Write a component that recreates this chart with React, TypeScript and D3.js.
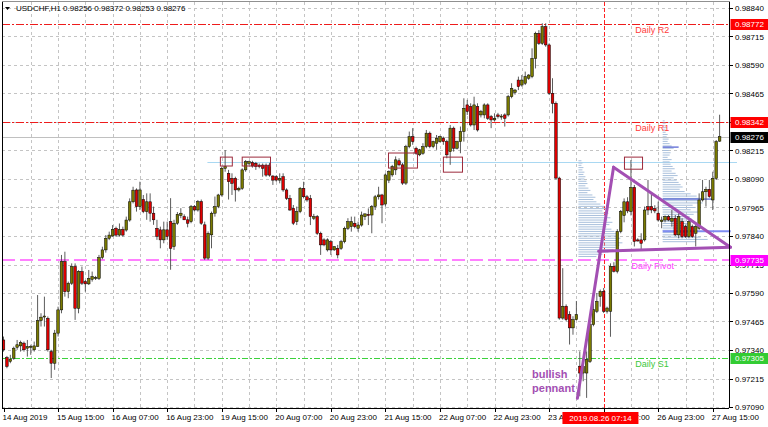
import React from 'react'
import * as d3 from 'd3'

const WIDTH = 768
const HEIGHT = 427
const AXIS_X = 729
const PLOT_TOP = 2
const PLOT_BOTTOM = 408
const FONT = '"Liberation Sans", Arial, sans-serif'

const symbol = 'USDCHF,H1'

// H1 bars, 14 Aug 2019 23:00 .. 27 Aug 2019 17:00
const opens = [
  0.97384, 0.97307, 0.9729, 0.97304, 0.97352, 0.97358, 0.9737, 0.97348, 0.97355, 0.97341,
  0.97355, 0.97469, 0.97487, 0.97479, 0.97333, 0.97282, 0.97414, 0.97516, 0.97728, 0.97596,
  0.97633, 0.97706, 0.97523, 0.97684, 0.9764, 0.9763, 0.9765, 0.97657, 0.97654, 0.97746,
  0.97779, 0.9783, 0.9784, 0.97874, 0.97844, 0.97869, 0.97866, 0.9791, 0.9799, 0.98042,
  0.97969, 0.98, 0.97947, 0.9799, 0.9794, 0.97874, 0.97867, 0.97823, 0.97867, 0.97903,
  0.97794, 0.97896, 0.9793, 0.97925, 0.97911, 0.97903, 0.97969, 0.97954, 0.97991, 0.97889,
  0.97743, 0.97845, 0.9794, 0.97969, 0.9802, 0.98137, 0.98115, 0.98093, 0.98093, 0.98042,
  0.98049, 0.9813, 0.98159, 0.98162, 0.98159, 0.98151, 0.98151, 0.98151, 0.98151, 0.98103,
  0.981, 0.98085, 0.981, 0.98042, 0.98005, 0.97961, 0.97903, 0.97947, 0.98049, 0.98012,
  0.98005, 0.97918, 0.97925, 0.97852, 0.97823, 0.97779, 0.97815, 0.97779, 0.97786, 0.97786,
  0.97815, 0.97874, 0.97881, 0.97896, 0.97874, 0.97888, 0.97925, 0.97935, 0.97932, 0.97969,
  0.98012, 0.9802, 0.9798, 0.98085, 0.98108, 0.9813, 0.9817, 0.98152, 0.98072, 0.98232,
  0.98276, 0.98225, 0.98196, 0.98203, 0.98232, 0.98291, 0.98232, 0.98247, 0.98254, 0.98269,
  0.98254, 0.9821, 0.98313, 0.98225, 0.98254, 0.98298, 0.98415, 0.98408, 0.98327, 0.98408,
  0.98371, 0.98371, 0.98415, 0.98364, 0.98349, 0.98371, 0.98364, 0.98371, 0.98371, 0.98451,
  0.9847, 0.98524, 0.98502, 0.9851, 0.98532, 0.98539, 0.98619, 0.98729, 0.98685, 0.98758,
  0.98678, 0.98466, 0.98422, 0.98094, 0.9748, 0.97532, 0.97495, 0.97437, 0.97473, 0.97269,
  0.97239, 0.97239, 0.9729, 0.97451, 0.9751, 0.97575, 0.97597, 0.9751, 0.9751, 0.97707,
  0.97685, 0.9786, 0.9793, 0.9799, 0.97947, 0.98053, 0.97823, 0.97823, 0.97823, 0.97969,
  0.97969, 0.9796, 0.9794, 0.97903, 0.9791, 0.97925, 0.97905, 0.97918, 0.97845, 0.97903,
  0.97881, 0.97837, 0.97881, 0.97852, 0.97874, 0.97998, 0.98034, 0.98045, 0.97998, 0.98093,
  0.98256,
]
const highs = [
  0.97399, 0.97314, 0.97319, 0.97355, 0.97384, 0.97381, 0.97377, 0.97384, 0.97363, 0.97377,
  0.97581, 0.97501, 0.97574, 0.97487, 0.97341, 0.97428, 0.9753, 0.97757, 0.97771, 0.9764,
  0.9772, 0.9772, 0.9769, 0.97706, 0.97647, 0.97691, 0.97684, 0.97665, 0.97757, 0.97793,
  0.97844, 0.97859, 0.97888, 0.97881, 0.97895, 0.97881, 0.97925, 0.98005, 0.98056, 0.98049,
  0.98078, 0.9802, 0.98027, 0.98027, 0.97969, 0.97911, 0.97881, 0.97903, 0.97903, 0.98006,
  0.97911, 0.97945, 0.97962, 0.97935, 0.97925, 0.97976, 0.97976, 0.97998, 0.98, 0.97903,
  0.9786, 0.97947, 0.98013, 0.98025, 0.98144, 0.98217, 0.9813, 0.98115, 0.981, 0.98056,
  0.98137, 0.98173, 0.9817, 0.9817, 0.98165, 0.98158, 0.98158, 0.98158, 0.98161, 0.98107,
  0.98107, 0.98115, 0.98115, 0.98049, 0.9802, 0.97976, 0.97969, 0.98055, 0.98078, 0.9802,
  0.9802, 0.97937, 0.97932, 0.97859, 0.9783, 0.9783, 0.97823, 0.97795, 0.97801, 0.97823,
  0.97881, 0.97918, 0.97925, 0.97925, 0.97903, 0.97947, 0.97939, 0.97961, 0.97976, 0.9802,
  0.98056, 0.98025, 0.98115, 0.98128, 0.98152, 0.98189, 0.98181, 0.9816, 0.9824, 0.98298,
  0.98313, 0.98232, 0.98222, 0.98247, 0.98305, 0.98298, 0.98258, 0.98283, 0.9828, 0.98276,
  0.98262, 0.98327, 0.9832, 0.98258, 0.9832, 0.98444, 0.98437, 0.98422, 0.98451, 0.98422,
  0.98393, 0.98422, 0.98422, 0.98371, 0.98378, 0.9838, 0.98375, 0.98378, 0.98459, 0.9851,
  0.98485, 0.98539, 0.98546, 0.98561, 0.9855, 0.98663, 0.98736, 0.98743, 0.98773, 0.98773,
  0.98685, 0.98532, 0.9843, 0.981, 0.97699, 0.9754, 0.9751, 0.97488, 0.97555, 0.97334,
  0.9729, 0.97334, 0.97466, 0.97583, 0.9759, 0.97605, 0.97612, 0.9753, 0.9772, 0.97725,
  0.9787, 0.97954, 0.98005, 0.9801, 0.98173, 0.98064, 0.9783, 0.97852, 0.97969, 0.98086,
  0.98027, 0.97975, 0.97991, 0.97925, 0.9793, 0.97932, 0.97954, 0.97932, 0.9794, 0.97918,
  0.9789, 0.97918, 0.9789, 0.97896, 0.98027, 0.98086, 0.98056, 0.98086, 0.98122, 0.98261,
  0.98372,
]
const lows = [
  0.97333, 0.9726, 0.97282, 0.97297, 0.97341, 0.97333, 0.97333, 0.97311, 0.97319, 0.97333,
  0.97355, 0.97443, 0.97443, 0.97333, 0.97217, 0.97253, 0.97399, 0.97501, 0.97574, 0.97567,
  0.97625, 0.97472, 0.97501, 0.97625, 0.97596, 0.97625, 0.9764, 0.97647, 0.97647, 0.97738,
  0.97767, 0.97822, 0.97837, 0.97837, 0.97837, 0.97837, 0.97859, 0.97903, 0.97983, 0.97947,
  0.97954, 0.9794, 0.97911, 0.97903, 0.97889, 0.97823, 0.97786, 0.97808, 0.97823, 0.97692,
  0.97779, 0.97889, 0.97918, 0.9791, 0.97878, 0.97896, 0.97947, 0.97947, 0.97889, 0.97735,
  0.97735, 0.97786, 0.97925, 0.97962, 0.98013, 0.98122, 0.98, 0.9802, 0.97991, 0.98035,
  0.98042, 0.98122, 0.9815, 0.9814, 0.9813, 0.98137, 0.981, 0.981, 0.981, 0.98064,
  0.98078, 0.98071, 0.98034, 0.97998, 0.9795, 0.97888, 0.97888, 0.9794, 0.98005, 0.9799,
  0.97888, 0.9791, 0.97845, 0.97757, 0.97795, 0.97772, 0.97757, 0.97775, 0.97742, 0.97779,
  0.97808, 0.97866, 0.97859, 0.97874, 0.97859, 0.97881, 0.9791, 0.97888, 0.97852, 0.97954,
  0.98, 0.97896, 0.9797, 0.98072, 0.981, 0.98108, 0.98145, 0.98064, 0.98064, 0.98225,
  0.9824, 0.98196, 0.9819, 0.98196, 0.98225, 0.98225, 0.98225, 0.98218, 0.9825, 0.9824,
  0.98181, 0.98152, 0.9821, 0.9822, 0.98203, 0.98254, 0.98371, 0.9832, 0.98305, 0.98298,
  0.9836, 0.98356, 0.98349, 0.98313, 0.98342, 0.98355, 0.9835, 0.9832, 0.98364, 0.98444,
  0.9846, 0.9848, 0.98495, 0.98502, 0.98525, 0.98532, 0.98575, 0.98678, 0.98678, 0.9867,
  0.98459, 0.98378, 0.98088, 0.97473, 0.97473, 0.97466, 0.97364, 0.97407, 0.9747, 0.97137,
  0.97203, 0.9713, 0.97283, 0.97444, 0.97502, 0.9753, 0.97502, 0.975, 0.97398, 0.9768,
  0.97676, 0.97852, 0.979, 0.9794, 0.9793, 0.97794, 0.97816, 0.97779, 0.97816, 0.97932,
  0.9794, 0.9794, 0.97903, 0.97874, 0.979, 0.97905, 0.97881, 0.9784, 0.9783, 0.9783,
  0.97832, 0.9783, 0.97832, 0.97794, 0.97867, 0.97991, 0.97969, 0.98008, 0.97954, 0.98086,
  0.98253,
]
const closes = [
  0.97341, 0.97268, 0.973, 0.97348, 0.97363, 0.97373, 0.97341, 0.97355, 0.97356, 0.97358,
  0.97469, 0.97484, 0.97489, 0.97341, 0.97282, 0.97414, 0.97516, 0.97728, 0.97596, 0.97633,
  0.97706, 0.97523, 0.97684, 0.97633, 0.9763, 0.97654, 0.97662, 0.97658, 0.97746, 0.97779,
  0.9783, 0.97844, 0.97869, 0.97844, 0.97869, 0.97844, 0.9791, 0.9799, 0.98041, 0.97969,
  0.98042, 0.97947, 0.9799, 0.9794, 0.97911, 0.97838, 0.97823, 0.97867, 0.97838, 0.97786,
  0.97896, 0.97935, 0.9794, 0.97911, 0.97896, 0.97969, 0.97954, 0.97991, 0.97896, 0.97743,
  0.97852, 0.9794, 0.97969, 0.9802, 0.98137, 0.98144, 0.98078, 0.98071, 0.98042, 0.98049,
  0.9813, 0.98166, 0.98166, 0.98147, 0.98144, 0.98144, 0.98137, 0.98107, 0.98107, 0.98085,
  0.98085, 0.98093, 0.98042, 0.98005, 0.97954, 0.97896, 0.97947, 0.98049, 0.98012, 0.97998,
  0.97925, 0.97925, 0.97852, 0.97801, 0.97801, 0.97823, 0.97779, 0.97793, 0.97757, 0.97815,
  0.97874, 0.97903, 0.97903, 0.97881, 0.97888, 0.97932, 0.97937, 0.9793, 0.97969, 0.98012,
  0.9802, 0.97976, 0.98108, 0.98123, 0.98145, 0.98174, 0.98152, 0.98072, 0.98232, 0.98276,
  0.98254, 0.98203, 0.98218, 0.98232, 0.98291, 0.98232, 0.98254, 0.98269, 0.98276, 0.98254,
  0.98196, 0.98313, 0.98225, 0.98254, 0.98298, 0.984, 0.98386, 0.98327, 0.98415, 0.98305,
  0.98386, 0.98415, 0.98356, 0.98349, 0.98356, 0.98364, 0.98366, 0.98356, 0.98451, 0.98488,
  0.9848, 0.98495, 0.98524, 0.98539, 0.98546, 0.98619, 0.98729, 0.98685, 0.98758, 0.98678,
  0.98466, 0.98422, 0.98094, 0.9748, 0.97532, 0.97473, 0.97437, 0.97473, 0.97495, 0.97239,
  0.97269, 0.97298, 0.97451, 0.97517, 0.97553, 0.97597, 0.9751, 0.97524, 0.97707, 0.97685,
  0.9786, 0.97947, 0.9799, 0.9795, 0.98053, 0.97816, 0.97818, 0.97808, 0.97954, 0.97954,
  0.97954, 0.9795, 0.9791, 0.9791, 0.97925, 0.9791, 0.97918, 0.97845, 0.97925, 0.97837,
  0.97837, 0.97903, 0.97837, 0.97881, 0.97998, 0.98034, 0.98045, 0.98013, 0.98093, 0.98254,
  0.98276,
]

const priceTicks = [
  0.9884, 0.98715, 0.9859, 0.98465, 0.9834, 0.98215, 0.9809, 0.97965, 0.9784, 0.97715,
  0.9759, 0.97465, 0.9734, 0.97215, 0.9709,
]
const timeTickBars = [0, 16, 32, 48, 64, 80, 96, 112, 128, 144, 160, 176, 192, 208]
const timeTickLabels = [
  '14 Aug 2019', '15 Aug 15:00', '16 Aug 07:00', '16 Aug 23:00', '19 Aug 15:00',
  '20 Aug 07:00', '20 Aug 23:00', '21 Aug 15:00', '22 Aug 07:00', '22 Aug 23:00',
  '23 Aug 15:00', '26 Aug 07:00', '26 Aug 23:00', '27 Aug 15:00',
]

// daily pivot levels
const levelNames = ['Daily R2', 'Daily R1', 'Daily Pivot', 'Daily S1']
const levelPrices = [0.98772, 0.98342, 0.97735, 0.97305]

// vertical cursor
const cursorBar = 176.23
const cursorLabel = '2019.08.26 07:14'

// resistance line and the marked boxes
const resistancePrice = 0.98166
const resistanceFromBar = 59.8
const boxFromBars = [63.6, 70, 112.9, 129, 182.1]
const boxToBars = [67.1, 78.3, 121.4, 134.6, 187.4]
const boxTops = [0.98186, 0.98186, 0.98204, 0.98186, 0.98186]
const boxBottoms = [0.98147, 0.98147, 0.98138, 0.9812, 0.98133]

// pennant drawing: pole bottom, apex, right tip, lower-left
const pennantBars = [168.3, 178.9, 213.2, 174.5]
const pennantPrices = [0.97128, 0.98142, 0.97791, 0.97773]
const pennantSegments = [[0, 1], [1, 2], [3, 2]]
const pennantText = ['bullish', 'pennant']

// volume profiles (rows of 1 pip, top row first)
const profileAFromBar = 168.6
const profileATop = 0.9817
const profileA = [
  3, 4, 3, 5, 4, 6, 5, 7, 6, 8, 9, 7, 10, 12, 9, 14, 17, 15, 18, 22, 26, 28,
  24, 30, 27, 32, 29, 34, 31, 28, 33, 36, 40, 38, 42, 39, 44, 41, 37, 35, 30, 24, 18,
]
const profileBFromBar = 193.3
const profileBTop = 0.98345
const profileB = [
  2, 3, 2, 4, 3, 3, 5, 4, 6, 5, 7, 9, 11, 6, 8, 7, 5, 9, 7, 8, 10, 12, 9, 13, 15, 11,
  14, 16, 18, 20, 17, 22, 28, 34, 38, 36, 40, 30, 33, 28, 35, 31, 27, 29, 24, 27, 22,
  26, 29, 25, 30, 38, 45, 33,
]
const PROFILE_STEP = 0.0001
const profileMarkPrices = [0.9823, 0.98002, 0.97861]
const profileMarkVolumes = [16, 50, 68]

const levelStyle = [
  { color: '#ee1c1c', text: '#ff3b3b', box: '#ff0000', dash: '8 2 2 2', width: 1 },
  { color: '#ee1c1c', text: '#ff3b3b', box: '#ff0000', dash: '8 2 2 2', width: 1 },
  { color: '#ff80ff', text: '#ff3cff', box: '#ff00ff', dash: '13 5', width: 2 },
  { color: '#3cd23c', text: '#3cc83c', box: '#33cc33', dash: '6 2 2 2', width: 1 },
]

// snap a y value onto a pixel row so thin lines stay crisp
const crisp = (v: number) => Math.round(v) + 0.5

export default function App() {
  const x = d3.scaleLinear().domain([0, 210]).range([3.5, 719.6])
  const y = d3.scaleLinear().domain([0.9709, 0.9884]).range([407, 8])
  const vol = d3.scaleLinear().domain([0, 10]).range([0, 10])
  const fmt = d3.format('.5f')
  const last = closes.length - 1
  const gridBars = d3.range(8, 211, 8)
  const bodyW = 2.6

  const tagRect = (price: number, fill: string, text: string, key: string) => (
    <g key={key}>
      <rect x={AXIS_X + 1.5} y={Math.round(y(price)) - 5} width={WIDTH - AXIS_X - 1.5} height={11} fill={fill} />
      <text x={735} y={y(price) + 3} fontSize={8} fill="#fff">{text}</text>
    </g>
  )

  return (
    <div style={{ position: 'fixed', left: 0, top: 0 }}>
      <svg width={WIDTH} height={HEIGHT} style={{ display: 'block', fontFamily: FONT, background: '#fff' }}>
        {/* grid */}
        <g stroke="#c4c4c4" strokeWidth={1} strokeDasharray="3 3">
          {priceTicks.map(p => (
            <line key={p} x1={2} x2={AXIS_X} y1={crisp(y(p))} y2={crisp(y(p))} />
          ))}
          {gridBars.map(b => (
            <line key={b} x1={crisp(x(b))} x2={crisp(x(b))} y1={PLOT_TOP} y2={PLOT_BOTTOM} />
          ))}
        </g>

        {/* current price line */}
        <line x1={2} x2={AXIS_X} y1={crisp(y(closes[last]))} y2={crisp(y(closes[last]))} stroke="#c0c0c0" strokeWidth={1} />

        {/* pivot levels */}
        {levelPrices.map((p, i) => {
          const ly = levelStyle[i].width === 2 ? Math.round(y(p)) : crisp(y(p))
          return (
            <line key={levelNames[i]} x1={2} x2={AXIS_X} y1={ly} y2={ly}
              stroke={levelStyle[i].color} strokeWidth={levelStyle[i].width} strokeDasharray={levelStyle[i].dash} />
          )
        })}

        {/* cursor */}
        <line x1={crisp(x(cursorBar))} x2={crisp(x(cursorBar))} y1={PLOT_TOP} y2={PLOT_BOTTOM} stroke="#ff2020" strokeWidth={1} strokeDasharray="4 2" />

        {/* resistance */}
        <line x1={x(resistanceFromBar)} x2={737} y1={crisp(y(resistancePrice))} y2={crisp(y(resistancePrice))} stroke="#a9d8f2" strokeWidth={1} />

        {/* volume profiles */}
        <g stroke="#a9c0dc" strokeWidth={1}>
          {profileA.map((v, i) => {
            const py = y(profileATop - i * PROFILE_STEP)
            return <line key={'a' + i} x1={x(profileAFromBar)} x2={x(profileAFromBar) + vol(v)} y1={py} y2={py} />
          })}
          {profileB.map((v, i) => {
            const py = y(profileBTop - i * PROFILE_STEP)
            return <line key={'b' + i} x1={x(profileBFromBar)} x2={x(profileBFromBar) + vol(v)} y1={py} y2={py} />
          })}
        </g>
        {profileMarkPrices.map((p, i) => (
          <line key={'m' + i} x1={x(profileBFromBar)} x2={x(profileBFromBar) + vol(profileMarkVolumes[i])}
            y1={y(p)} y2={y(p)} stroke={i === 2 ? '#7f8cf2' : '#2b3cc8'} strokeWidth={i === 2 ? 2 : 1} />
        ))}

        {/* candles */}
        <g>
          {opens.map((o, i) => {
            const c = closes[i]
            const up = c >= o
            const top = y(Math.max(o, c))
            const h = Math.max(1, y(Math.min(o, c)) - top)
            return (
              <g key={i}>
                <line x1={x(i)} x2={x(i)} y1={y(highs[i])} y2={y(lows[i])} stroke="#4a4a4a" strokeWidth={0.9} />
                <rect x={x(i) - bodyW / 2} y={top} width={bodyW} height={h}
                  fill={up ? '#7a7a00' : '#e00000'} stroke="#000" strokeWidth={0.5} />
              </g>
            )
          })}
        </g>

        {/* boxes */}
        {boxFromBars.map((b, i) => (
          <rect key={'box' + i} x={x(b)} y={y(boxTops[i])} width={x(boxToBars[i]) - x(b)}
            height={y(boxBottoms[i]) - y(boxTops[i])} fill="none" stroke="#9c2a3c" strokeWidth={1} />
        ))}

        {/* pennant */}
        <g stroke="#a34fb3" strokeWidth={3} strokeLinecap="round">
          {pennantSegments.map(([a, b], i) => (
            <line key={'p' + i} x1={x(pennantBars[a])} y1={y(pennantPrices[a])} x2={x(pennantBars[b])} y2={y(pennantPrices[b])} />
          ))}
        </g>
        <text x={x(155)} y={y(0.97216)} fontSize={11} fontWeight="bold" fill="#a34fb3">
          {pennantText.map((t, i) => (
            <tspan key={t} x={x(155)} dy={i === 0 ? 0 : 14}>{t}</tspan>
          ))}
        </text>

        {/* level names */}
        {levelPrices.map((p, i) => (
          <text key={'ln' + i} x={i === 2 ? x(184.2) : x(185.3)} y={y(p) + 9.5} fontSize={9} fill={levelStyle[i].text}>
            {levelNames[i]}
          </text>
        ))}

        {/* frame */}
        <g stroke="#000" strokeWidth={1}>
          <line x1={2.5} x2={2.5} y1={PLOT_TOP} y2={PLOT_BOTTOM} />
          <line x1={AXIS_X + 0.5} x2={AXIS_X + 0.5} y1={PLOT_TOP} y2={PLOT_BOTTOM} />
          <line x1={2} x2={AXIS_X} y1={PLOT_BOTTOM + 0.5} y2={PLOT_BOTTOM + 0.5} />
        </g>
        <line x1={2} x2={AXIS_X + 1} y1={1.5} y2={1.5} stroke="#909090" strokeWidth={1} />

        {/* price axis */}
        {priceTicks.map(p => (
          <g key={'pt' + p}>
            <line x1={AXIS_X} x2={AXIS_X + 4} y1={crisp(y(p))} y2={crisp(y(p))} stroke="#000" />
            <text x={735} y={y(p) + 3} fontSize={8} fill="#000">{fmt(p)}</text>
          </g>
        ))}
        {levelPrices.map((p, i) => tagRect(p, levelStyle[i].box, fmt(p), 'tag' + i))}
        {tagRect(closes[last], '#000', fmt(closes[last]), 'tagLast')}

        {/* time axis */}
        {timeTickBars.map((b, i) => (
          <g key={'tt' + b}>
            <line x1={crisp(x(b))} x2={crisp(x(b))} y1={PLOT_BOTTOM} y2={PLOT_BOTTOM + 4} stroke="#000" />
            <text x={x(b) - 1} y={420} fontSize={8} fill="#000">{timeTickLabels[i]}</text>
          </g>
        ))}
        <rect x={x(cursorBar) - 42} y={412} width={76} height={12} fill="#ff0000" />
        <text x={x(cursorBar) - 4} y={421} fontSize={8} fill="#fff" textAnchor="middle">{cursorLabel}</text>

        {/* header */}
        <path d="M5,7 L10,7 L7.5,10 Z" fill="#000" />
        <text x={16} y={11} fontSize={8} fill="#000">
          {`${symbol}  ${fmt(opens[last])} ${fmt(highs[last])} ${fmt(lows[last])} ${fmt(closes[last])}`}
        </text>
      </svg>
    </div>
  )
}
